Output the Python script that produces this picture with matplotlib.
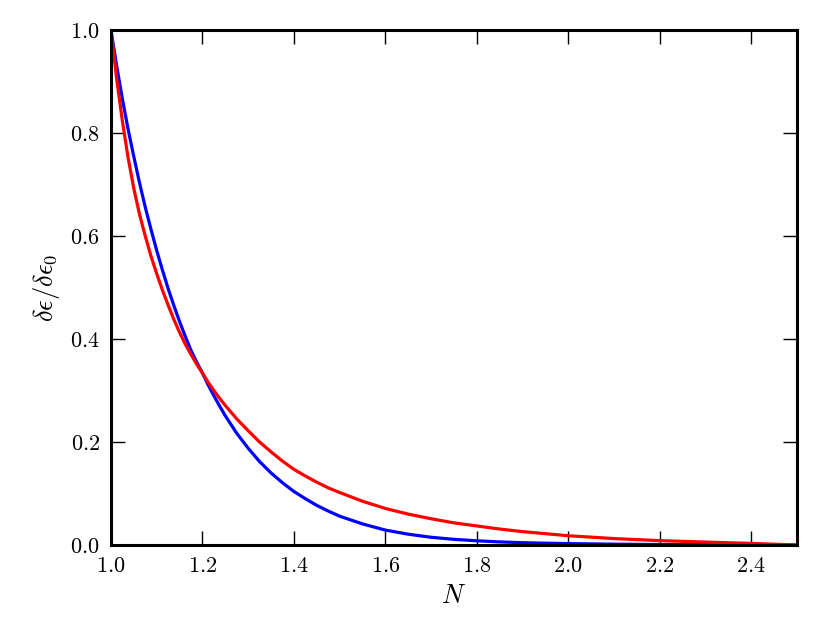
import matplotlib
matplotlib.use("Agg")
import matplotlib.pyplot as plt
from matplotlib.ticker import FuncFormatter

# values
n_vals = [1.0, 1.0125, 1.025, 1.0375, 1.05, 1.0625, 1.075, 1.0875, 1.1, 1.1125, 1.125,
          1.1375, 1.15, 1.1625, 1.175, 1.1875, 1.2, 1.2125, 1.225, 1.2375, 1.25, 1.275,
          1.3, 1.325, 1.35, 1.375, 1.4, 1.425, 1.45, 1.475, 1.5, 1.55, 1.6, 1.65, 1.7,
          1.75, 1.8, 1.85, 1.9, 1.95, 2.0, 2.1, 2.2, 2.3, 2.4, 2.5]
blue = [1.0, 0.93, 0.866, 0.807, 0.754, 0.703, 0.656, 0.613, 0.572, 0.534, 0.498,
        0.465, 0.434, 0.405, 0.378, 0.355, 0.334, 0.311, 0.29, 0.27, 0.251, 0.217,
        0.188, 0.162, 0.14, 0.121, 0.104, 0.09, 0.077, 0.066, 0.056, 0.041, 0.029,
        0.021, 0.015, 0.011, 0.0082, 0.006, 0.0045, 0.0035, 0.0027, 0.0016, 0.001,
        0.0006, 0.0003, 0.0]
red = [1.0, 0.905, 0.823, 0.752, 0.692, 0.642, 0.6, 0.561, 0.527, 0.495, 0.466,
       0.438, 0.413, 0.39, 0.37, 0.351, 0.334, 0.316, 0.3, 0.285, 0.271, 0.245,
       0.222, 0.2, 0.181, 0.163, 0.147, 0.134, 0.122, 0.111, 0.102, 0.085, 0.071,
       0.06, 0.051, 0.043, 0.037, 0.031, 0.026, 0.022, 0.018, 0.0125, 0.0085, 0.0057,
       0.0031, 0.0]

plt.rcParams["mathtext.fontset"] = "cm"

fig = plt.figure(figsize=(8.3, 6.23), dpi=100)
ax = fig.add_axes([0.1337, 0.1252, 0.8263, 0.8266])

ax.plot(n_vals, blue, color="blue", lw=2.3)
ax.plot(n_vals, red, color="red", lw=2.3)

ax.set_xlim(1.0, 2.5)
ax.set_ylim(0.0, 1.0)
ax.set_xticks([1.0, 1.2, 1.4, 1.6, 1.8, 2.0, 2.2, 2.4])
ax.set_yticks([0.0, 0.2, 0.4, 0.6, 0.8, 1.0])
fmt = FuncFormatter(lambda v, pos: r"$%.1f$" % v)
ax.xaxis.set_major_formatter(fmt)
ax.yaxis.set_major_formatter(fmt)

ax.tick_params(direction="in", length=10, width=1, top=True, right=True,
               labelsize=16, pad=8)
for s in ax.spines.values():
    s.set_linewidth(2.2)

ax.set_xlabel(r"$N$", fontsize=19, labelpad=5)
ax.set_ylabel(r"$\delta\epsilon/\delta\epsilon_0$", fontsize=19, labelpad=6)

fig.savefig("out.png", dpi=100)
